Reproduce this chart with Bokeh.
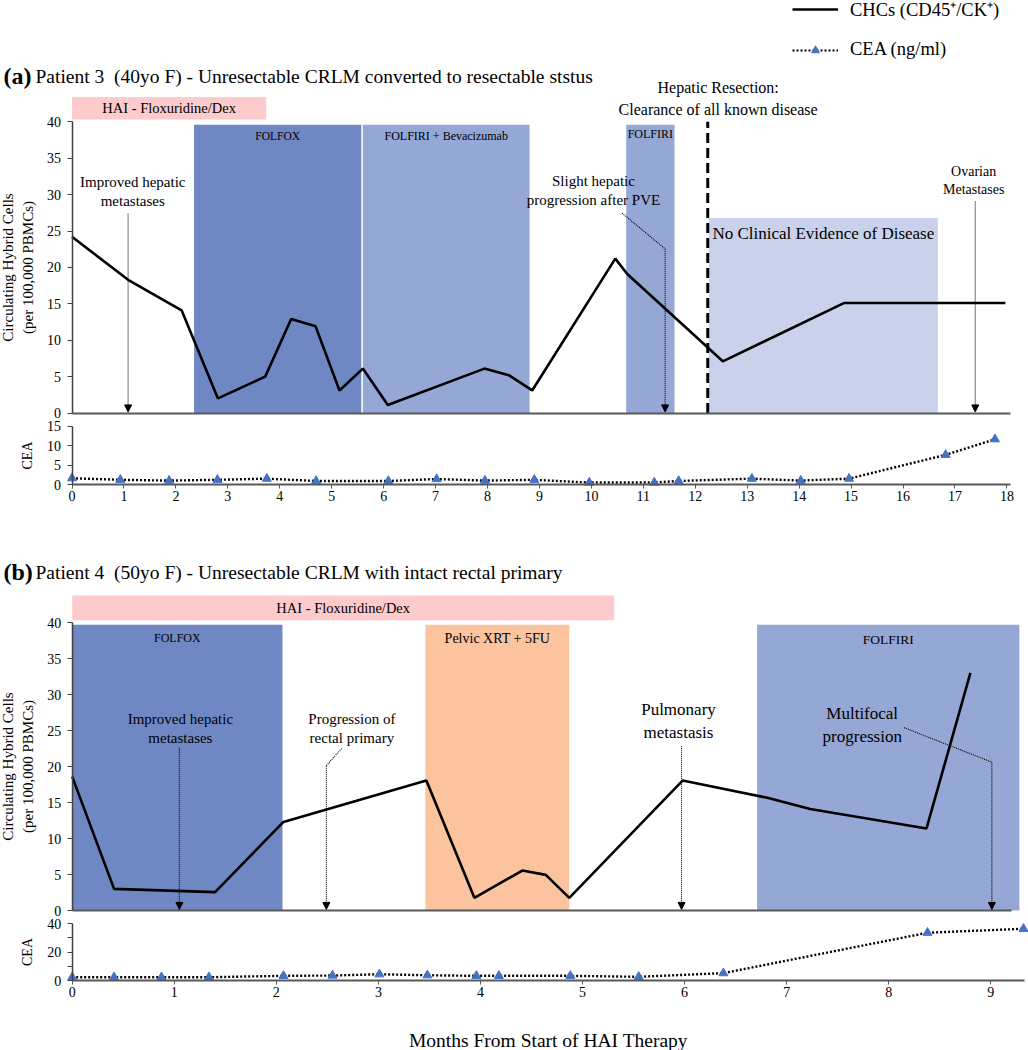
from bokeh.plotting import figure
from bokeh.layouts import column
from bokeh.models import (ColumnDataSource, Range1d, FixedTicker, Arrow, NormalHead,
                          Legend, LegendItem, LinearAxis)
from bokeh.core.properties import value
from bokeh.embed import file_html
from bokeh.resources import INLINE

FONT = "Liberation Serif"

# ---------------- Panel (a) data ----------------
a_title_tag = "(a)"
a_title = "Patient 3\u00a0 (40yo F) - Unresectable CRLM converted to resectable ststus"
a_chc_month = [0.0, 1.08, 2.11, 2.81, 3.72, 4.22, 4.69, 5.15, 5.60, 6.08, 7.94, 8.41, 8.86,
               10.46, 10.69, 12.53, 14.86, 17.97]
a_chc_value = [24.2, 18.3, 14.1, 2.0, 5.0, 12.9, 11.9, 3.1, 6.1, 1.1, 6.1, 5.2, 3.1,
               21.2, 19.1, 7.1, 15.1, 15.1]
a_cea_month = [0.0, 0.93, 1.87, 2.80, 3.75, 4.70, 6.09, 7.02, 7.95, 8.90, 9.96, 11.21, 11.68,
               13.09, 14.03, 14.96, 16.82, 17.77]
a_cea_value = [1.6, 1.2, 1.0, 1.2, 1.5, 0.9, 0.9, 1.4, 1.0, 1.2, 0.5, 0.5, 0.9,
               1.5, 1.0, 1.5, 7.6, 11.6]
a_therapy = ["HAI - Floxuridine/Dex", "FOLFOX", "FOLFIRI + Bevacizumab", "FOLFIRI",
             "No Clinical Evidence of Disease"]
a_therapy_start = [0.0, 2.35, 5.60, 10.67, 12.26]
a_therapy_end = [3.74, 5.57, 8.81, 11.60, 16.67]
a_event = ["Improved hepatic\nmetastases", "Slight hepatic\nprogression after PVE",
           "Ovarian\nMetastases"]
a_event_month = [1.08, 11.42, 17.39]
a_resection_month = [12.24]
a_resection_text = ["Hepatic Resection:\nClearance of all known disease"]
a_xticks = list(range(0, 19))
a_cea_ticks = [0, 5, 10, 15]

# ---------------- Panel (b) data ----------------
b_title_tag = "(b)"
b_title = "Patient 4\u00a0 (50yo F) - Unresectable CRLM with intact rectal primary"
b_chc_month = [0.0, 0.41, 1.40, 2.07, 3.47, 3.94, 4.41, 4.64, 4.87, 5.98, 6.81, 7.23, 8.37, 8.80]
b_chc_value = [18.6, 3.0, 2.55, 12.3, 18.05, 1.76, 5.55, 4.95, 1.76, 18.05, 15.65, 14.1, 11.4, 33.0]
b_cea_month = [0.0, 0.41, 0.875, 1.34, 2.07, 2.55, 3.01, 3.48, 3.96, 4.18, 4.88, 5.55, 6.38,
               8.38, 9.32]
b_cea_value = [2.3, 2.3, 2.3, 2.3, 3.3, 3.5, 4.4, 3.7, 3.3, 3.3, 3.3, 2.6, 5.2, 33.7, 36.5]
b_therapy = ["HAI - Floxuridine/Dex", "FOLFOX", "Pelvic XRT + 5FU", "FOLFIRI"]
b_therapy_start = [0.0, 0.0, 3.46, 6.71]
b_therapy_end = [5.31, 2.06, 4.87, 9.28]
b_event = ["Improved hepatic\nmetastases", "Progression of\nrectal primary",
           "Pulmonary\nmetastasis", "Multifocal\nprogression"]
b_event_month = [1.05, 2.49, 5.97, 9.01]
b_xticks = list(range(0, 10))
b_cea_ticks = [0, 10, 20, 30, 40]

chc_ticks = [0, 5, 10, 15, 20, 25, 30, 35, 40]
legend_labels = ["CHCs (CD45\u207a/CK\u207a)", "CEA (ng/ml)"]
x_label = "Months From Start of HAI Therapy"
chc_label = "Circulating Hybrid Cells\n(per 100,000 PBMCs)"
cea_label = "CEA"

# ---------------- layout / style ----------------
W = 1028
PAGE_L, PAGE_R = 0, 1028
C_DARK, C_MID, C_LIGHT = "#6F88C4", "#94A7D5", "#C9D2EA"
C_HAI, C_XRT = "#FDCBCB", "#FBC39E"
TRI = "#4472C4"
AXIS_GRAY = "#595959"
NAN = float("nan")

A_BAND = dict(bottom=[40.3, 0, 0, 0, 0], top=[43.4, 39.6, 39.6, 39.6, 26.8],
              color=[C_HAI, C_DARK, C_MID, C_MID, C_LIGHT],
              ly=[41.85, 38.0, 38.0, 38.3, 24.6],
              fs=["14.5px", "11.5px", "12px", "12px", "17px"])
B_BAND = dict(bottom=[40.3, 0, 0, 0], top=[43.75, 39.7, 39.7, 39.7],
              color=[C_HAI, C_DARK, C_XRT, C_MID],
              ly=[42.0, 37.8, 37.8, 37.6],
              fs=["14.5px", "12px", "14px", "13.5px"])
A_EVT = dict(tx=[1.17, 10.04, 17.36], ty=[30.4, 30.6, 32.0], fs=["15px", "15px", "14px"],
             top=[27.4, 22.55, 29.05], lead=[None, (10.59, 27.45), None])
B_EVT = dict(tx=[1.06, 2.74, 5.94, 7.74], ty=[25.3, 25.3, 26.3, 25.8],
             fs=["15px", "15px", "17px", "17px"],
             top=[22.6, 20.1, 22.8, 20.6], lead=[None, (2.64, 22.5), None, (8.15, 25.4)])


def xr(zero_px, ppm):
    return Range1d((PAGE_L - zero_px) / ppm, (PAGE_R - zero_px) / ppm)


def yr(zero_px, ppu, top_px, bottom_px):
    return Range1d((zero_px - bottom_px) / ppu, (zero_px - top_px) / ppu)


def make_fig(h, xrange, yrange, cea_range):
    p = figure(width=W, height=h, x_range=xrange, y_range=yrange,
               output_backend="svg", toolbar_location=None,
               min_border=0, outline_line_color=None)
    p.min_border_left = p.min_border_right = p.min_border_top = p.min_border_bottom = 0
    p.title.visible = False
    p.xgrid.visible = False
    p.ygrid.visible = False
    p.background_fill_color = "white"
    p.border_fill_color = "white"
    p.xaxis[0].fixed_location = 0
    p.yaxis[0].fixed_location = 0
    p.extra_y_ranges = {"cea": cea_range}
    return p


def style_y(ax, ticks, bounds, label, overrides=None, label_standoff=9, label_size="15px"):
    ax.ticker = FixedTicker(ticks=ticks)
    ax.bounds = bounds
    ax.axis_line_color = "#404040"
    ax.axis_line_width = 1.5
    ax.major_tick_line_color = "#404040"
    ax.major_tick_line_width = 1.2
    ax.major_tick_out = 5
    ax.major_tick_in = 0
    ax.minor_tick_line_color = None
    ax.major_label_text_font = FONT
    ax.major_label_text_font_size = "14px"
    ax.major_label_text_color = "black"
    ax.major_label_standoff = 6
    if overrides:
        ax.major_label_overrides = overrides
    ax.axis_label = label
    ax.axis_label_text_font = FONT
    ax.axis_label_text_font_size = label_size
    ax.axis_label_text_font_style = "normal"
    ax.axis_label_text_color = "black"
    ax.axis_label_standoff = label_standoff


def style_x(ax, ticks, bounds, width=2.0, show=True):
    ax.bounds = bounds
    ax.axis_line_color = AXIS_GRAY
    ax.axis_line_width = width
    ax.minor_tick_line_color = None
    if show:
        ax.ticker = FixedTicker(ticks=ticks)
        ax.major_tick_line_color = AXIS_GRAY
        ax.major_tick_out = 4
        ax.major_tick_in = 0
        ax.major_label_text_font = FONT
        ax.major_label_text_font_size = "14px"
        ax.major_label_text_color = "black"
        ax.major_label_standoff = 2
    else:
        ax.ticker = FixedTicker(ticks=[])
        ax.major_tick_line_color = None
        ax.major_label_text_font_size = "0px"


def cea_axes(p, yticks, xticks, xbounds, overrides=None):
    ya = LinearAxis(y_range_name="cea", fixed_location=0)
    style_y(ya, yticks, (0, max(yticks)), cea_label, overrides=overrides,
            label_standoff=10, label_size="14px")
    p.add_layout(ya, "left")
    xa = LinearAxis(y_range_name="cea", fixed_location=0)
    style_x(xa, xticks, xbounds, width=1.8)
    p.add_layout(xa, "below")
    return xa


def bands(p, labels, start, end, st):
    src = ColumnDataSource(dict(left=start, right=end, bottom=st["bottom"], top=st["top"],
                                color=st["color"], label=labels,
                                lx=[(s + e) / 2 for s, e in zip(start, end)],
                                ly=st["ly"], fs=st["fs"]))
    p.quad(left="left", right="right", bottom="bottom", top="top", fill_color="color",
           line_color=None, source=src)
    p.text(x="lx", y="ly", text="label", text_font_size="fs", text_font=value(FONT),
           text_align="center", text_baseline="middle", text_color="black", source=src)


def events(p, labels, months, st):
    src = ColumnDataSource(dict(x=st["tx"], y=st["ty"], text=labels, fs=st["fs"]))
    p.text(x="x", y="y", text="text", text_font_size="fs", text_font=value(FONT),
           text_align="center", text_baseline="middle", text_color="black",
           text_line_height=1.2, source=src)
    for m, top, lead in zip(months, st["top"], st["lead"]):
        if lead is not None:
            p.line(x=[lead[0], m], y=[lead[1], top], line_color="black", line_width=1.1,
                   line_dash="1 1")
        p.add_layout(Arrow(end=NormalHead(size=7, fill_color="black", line_color="black",
                                          line_width=1),
                           x_start=m, y_start=top, x_end=m, y_end=0.15,
                           line_color="black", line_width=1.1, line_dash="1 1"))


def title(p, tag, text, x0, y):
    p.text(x=[x0], y=[y], text=[tag], text_font=value(FONT), text_font_size="24px",
           text_font_style="bold", text_align="left", text_baseline="middle",
           text_color="black", x_offset=3)
    p.text(x=[x0], y=[y], text=[text], text_font=value(FONT), text_font_size="19.5px",
           text_align="left", text_baseline="middle", text_color="black", x_offset=35)


def cea_series(p, months, vals):
    p.line(months, vals, line_color="black", line_width=2.4, line_dash="2 2",
           y_range_name="cea")
    p.scatter(months, vals, marker="triangle", size=9, fill_color=TRI, line_color=TRI,
              y_range_name="cea")


# ================= Panel (a) =================
H_A, H_B = 512, 538
XA = xr(71.5, 51.94)
pa = make_fig(H_A, XA, yr(412.5, 7.28, 0, H_A), yr(484, 3.9, 0, H_A))
style_y(pa.yaxis[0], chc_ticks, (0, 40), chc_label)
style_x(pa.xaxis[0], [], (0, 18.06), width=2.2, show=False)
cea_axes(pa, a_cea_ticks, a_xticks, (0, 18.06))
bands(pa, a_therapy, a_therapy_start, a_therapy_end, A_BAND)
pa.segment(x0=a_resection_month, y0=[0], x1=a_resection_month, y1=[40],
           line_color="black", line_width=3, line_dash="10 5")
pa.text(x=[m + 0.2 for m in a_resection_month], y=[43.2], text=a_resection_text,
        text_font=value(FONT), text_font_size="16px", text_align="center",
        text_baseline="middle", text_line_height=1.3, text_color="black")
events(pa, a_event, a_event_month, A_EVT)
chc_a = pa.line(a_chc_month, a_chc_value, line_color="black", line_width=2.6)
cea_series(pa, a_cea_month, a_cea_value)
title(pa, a_title_tag, a_title, XA.start, 46.26)

leg_line = pa.line(x=[NAN], y=[NAN], line_color="black", line_width=2.2, line_dash="2 2")
leg_tri = pa.scatter(x=[NAN], y=[NAN], marker="triangle", size=9, fill_color=TRI,
                     line_color=TRI)
legend = Legend(items=[LegendItem(label=legend_labels[0], renderers=[chc_a]),
                       LegendItem(label=legend_labels[1], renderers=[leg_line, leg_tri])],
                location=(792, H_A - 60), orientation="vertical", glyph_width=46,
                glyph_height=20, label_height=20, label_standoff=12, spacing=18,
                padding=0, margin=0, border_line_color=None, background_fill_alpha=0,
                label_text_font=FONT, label_text_font_size="18.5px",
                label_text_color="black")
pa.add_layout(legend)

# ================= Panel (b) =================
XB = xr(71.7, 102.07)
pb = make_fig(H_B, XB, yr(910, 7.2, 512, 1050), yr(980, 1.417, 512, 1050))
style_y(pb.yaxis[0], chc_ticks, (0, 40), chc_label)
style_x(pb.xaxis[0], [], (0, 9.2), width=2.2, show=False)
xb = cea_axes(pb, b_cea_ticks, b_xticks, (0, 9.33), overrides={10: "", 30: ""})
xb.axis_label = x_label
xb.axis_label_text_font = FONT
xb.axis_label_text_font_size = "19.5px"
xb.axis_label_text_font_style = "normal"
xb.axis_label_text_color = "black"
xb.axis_label_standoff = 30
bands(pb, b_therapy, b_therapy_start, b_therapy_end, B_BAND)
events(pb, b_event, b_event_month, B_EVT)
pb.line(b_chc_month, b_chc_value, line_color="black", line_width=2.6)
cea_series(pb, b_cea_month, b_cea_value)
title(pb, b_title_tag, b_title, XB.start, 46.99)

layout = column(pa, pb, spacing=0)
open("out.html", "w").write(file_html(layout, INLINE))
